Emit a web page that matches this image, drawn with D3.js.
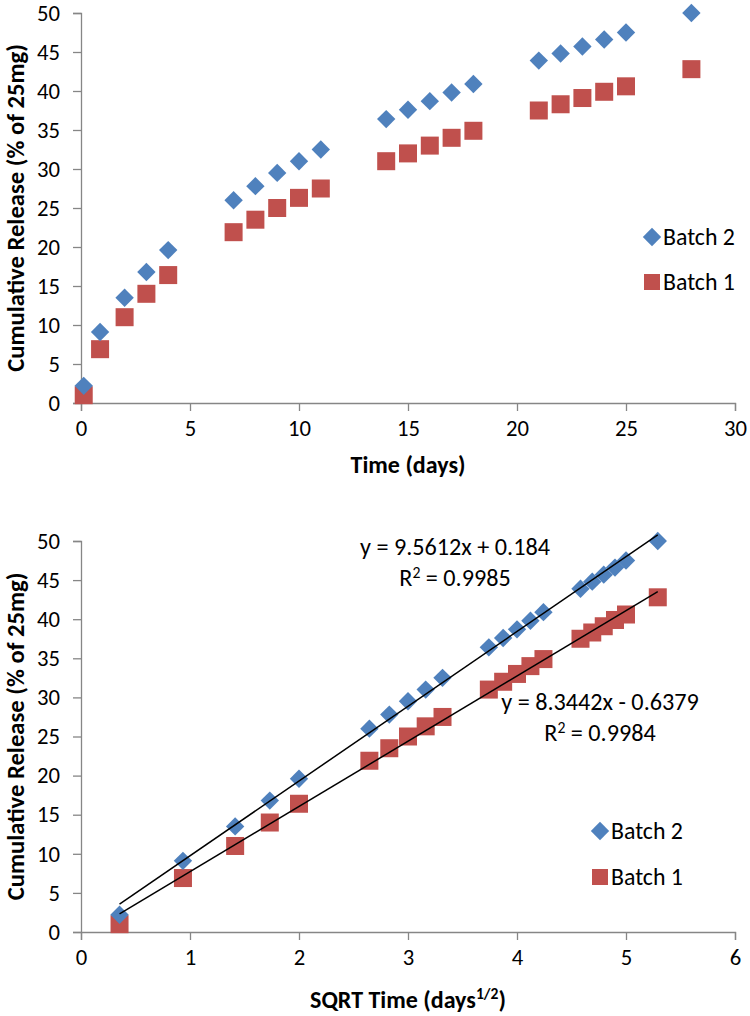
<!DOCTYPE html>
<meta charset="utf-8">
<script src="https://d3js.org/d3.v7.min.js"></script>
<style>
  body { margin: 0; background: #fff; }
  text { font-family: Carlito, Lato, "Liberation Sans", sans-serif; fill: #000; }
</style>
<div id="chart"></div>
<script>
// sampling times (days)
var days = [0.125, 0.875, 2, 3, 4, 7, 8, 9, 10, 11, 14, 15, 16, 17, 18, 21, 22, 23, 24, 25, 28];
var batch2 = [2.2, 9.1, 13.5, 16.8, 19.6, 26.0, 27.8, 29.5, 31.0, 32.5, 36.4, 37.6, 38.7, 39.8, 40.9, 43.9, 44.8, 45.7, 46.6, 47.5, 50.0];
var batch1 = [1.0, 6.9, 11.0, 14.0, 16.4, 21.9, 23.5, 25.0, 26.3, 27.5, 31.0, 32.0, 33.0, 34.0, 34.9, 37.5, 38.3, 39.1, 39.9, 40.6, 42.8];
var yTicks = [0, 5, 10, 15, 20, 25, 30, 35, 40, 45, 50];
var xTicksTop = [0, 5, 10, 15, 20, 25, 30];
var xTicksBottom = [0, 1, 2, 3, 4, 5, 6];
// trendline coefficients printed on the chart
var fit2 = {slope: 9.5612, icept: 0.184, r2: "0.9985"};
var fit1 = {slope: 8.3442, icept: -0.6379, r2: "0.9984"};

var blue = "#4F81BD", red = "#C0504D", axisCol = "#868686";

var svg = d3.select("#chart").append("svg")
    .attr("width", 750)
    .attr("height", 1016);

// find the font size that makes a string a given width (font is whatever got picked)
function sizeFor(str, weight, width) {
  var t = svg.append("text").style("font-size", "100px").style("font-weight", weight).text(str);
  var w = t.node().getComputedTextLength();
  t.remove();
  return 100 * width / w;
}
var tickSize = sizeFor("10", "normal", 23);
var legSize = sizeFor("Batch 2", "normal", 72);
var yTitleSize = sizeFor("Cumulative Release (% of 25mg)", "bold", 328);
var eqSize = sizeFor("y = 9.5612x + 0.184", "normal", 190);

function panel(top, bottom, xmax, xTicks, xs, titleGap, legX, legY, xTitle) {
  var x = d3.scaleLinear().domain([0, xmax]).range([81, 735]);
  var y = d3.scaleLinear().domain([0, 50]).range([bottom, top]);
  var g = svg.append("g");

  // axes
  var ya = g.append("g").attr("transform", "translate(81,0)")
    .call(d3.axisLeft(y).tickValues(yTicks).tickSize(8).tickPadding(13));
  var xa = g.append("g").attr("transform", "translate(0," + bottom + ")")
    .call(d3.axisBottom(x).tickValues(xTicks).tickFormat(d3.format("d")).tickSize(8).tickPadding(9));
  [ya, xa].forEach(function(a) {
    a.selectAll("path, line").attr("stroke", axisCol).attr("stroke-width", 1.3);
    a.selectAll("text").style("font-size", tickSize + "px").attr("fill", "#000");
  });

  // axis titles
  g.append("text")
    .attr("transform", "translate(24," + ((top + bottom) / 2) + ") rotate(-90)")
    .style("text-anchor", "middle")
    .style("font-size", yTitleSize + "px")
    .style("font-weight", "bold")
    .text("Cumulative Release (% of 25mg)");
  var xt = g.append("text")
    .attr("x", 408).attr("y", bottom + titleGap)
    .style("text-anchor", "middle")
    .style("font-weight", "bold");
  xTitle(xt);

  // points
  var sq = 18, dm = 13;
  g.append("g").selectAll("rect")
    .data(batch1).enter().append("rect")
      .attr("x", function(d, i) { return x(xs[i]) - sq / 2; })
      .attr("y", function(d) { return y(d) - sq / 2; })
      .attr("width", sq).attr("height", sq)
      .attr("fill", red);
  g.append("g").selectAll("rect")
    .data(batch2).enter().append("rect")
      .attr("width", dm).attr("height", dm)
      .attr("transform", function(d, i) {
        return "translate(" + x(xs[i]) + "," + y(d) + ") rotate(45) translate(" + (-dm / 2) + "," + (-dm / 2) + ")";
      })
      .attr("fill", blue);

  // legend
  var lg = g.append("g");
  var ly2 = legY[0], ly1 = legY[1];
  lg.append("rect").attr("width", 13).attr("height", 13)
    .attr("transform", "translate(" + legX + "," + ly2 + ") rotate(45) translate(-6.5,-6.5)")
    .attr("fill", blue);
  lg.append("rect").attr("x", legX - 8).attr("y", ly1 - 8).attr("width", 16).attr("height", 16).attr("fill", red);
  lg.append("text").attr("x", legX + 11).attr("y", ly2).attr("dy", "0.35em").style("font-size", legSize + "px").text("Batch 2");
  lg.append("text").attr("x", legX + 11).attr("y", ly1).attr("dy", "0.35em").style("font-size", legSize + "px").text("Batch 1");

  return {g: g, x: x, y: y};
}

// top chart: time in days
panel(13, 403, 30, xTicksTop, days, 70, 652, [237, 282], function(t) {
  t.style("font-size", sizeFor("Time (days)", "bold", 115) + "px").text("Time (days)");
});

// bottom chart: square root of time
var sqrtDays = days.map(function(d) { return Math.sqrt(d); });
var p = panel(541, 932, 6, xTicksBottom, sqrtDays, 76, 600, [831, 877], function(t) {
  var s = sizeFor("Time (days)", "bold", 115);
  t.style("font-size", s + "px");
  t.append("tspan").text("SQRT Time (days");
  t.append("tspan").attr("dy", -9).style("font-size", (s * 0.65) + "px").text("1/2");
  t.append("tspan").attr("dy", 9).text(")");
});

// trendlines
var x0 = sqrtDays[0], x1 = sqrtDays[sqrtDays.length - 1];
[fit2, fit1].forEach(function(f) {
  p.g.append("line")
    .attr("x1", p.x(x0)).attr("y1", p.y(f.slope * x0 + f.icept))
    .attr("x2", p.x(x1)).attr("y2", p.y(f.slope * x1 + f.icept))
    .attr("stroke", "#000").attr("stroke-width", 1.5);
});

// equations
function eq(f, cx, cy, sign) {
  p.g.append("text").attr("x", cx).attr("y", cy).style("text-anchor", "middle").style("font-size", eqSize + "px")
    .text("y = " + f.slope + "x " + sign + " " + Math.abs(f.icept));
  var r = p.g.append("text").attr("x", cx).attr("y", cy + 31).style("text-anchor", "middle").style("font-size", eqSize + "px");
  r.append("tspan").text("R");
  r.append("tspan").attr("dy", -8).style("font-size", (eqSize * 0.65) + "px").text("2");
  r.append("tspan").attr("dy", 8).text(" = " + f.r2);
}
eq(fit2, 455, 555, "+");
eq(fit1, 600, 710, "-");
</script>
